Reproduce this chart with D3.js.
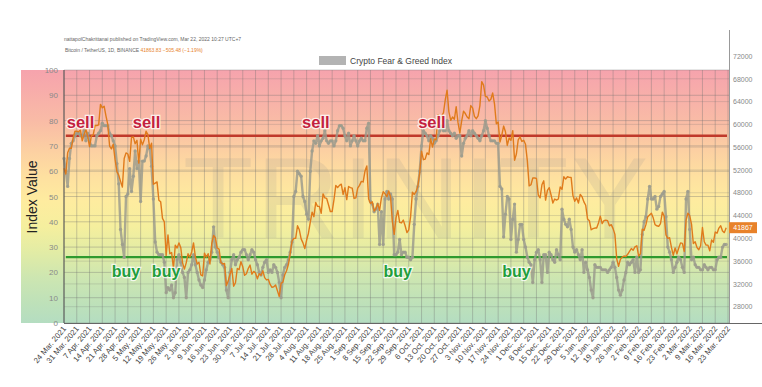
<!DOCTYPE html>
<html><head><meta charset="utf-8">
<script src="https://cdn.jsdelivr.net/npm/d3@7"></script>
<style>
body{margin:0;background:#fff}
svg{display:block}
text{font-family:"Liberation Sans",Arial,Helvetica,sans-serif}
</style>
</head><body>
<svg id="chart" width="762" height="387"></svg>
<script>
// ---------------- DATA ----------------
const startDate = "2021-03-24";
const endDate = "2022-03-23";

// Crypto Fear & Greed Index, daily from 24 Mar 2021
const fearGreed = [
65,60,54,65,71,72,74,75,75,74,
74,76,72,75,72,70,70,70,74,75,
76,79,78,78,78,75,74,72,70,63,
55,37,31,26,50,51,61,52,58,68,
61,64,48,64,64,66,70,69,62,49,
32,28,27,27,27,24,12,14,13,15,
10,12,25,27,24,20,18,10,20,21,
23,27,23,20,17,15,14,17,21,24,
25,28,38,30,28,26,24,23,22,13,
10,20,25,27,23,25,26,28,29,29,
27,25,27,29,28,25,23,20,19,22,
24,25,20,21,20,23,22,20,16,10,
19,22,23,25,28,32,50,52,60,59,
58,50,48,43,41,60,68,72,71,74,
70,72,73,76,72,71,72,72,70,72,
76,78,78,77,74,72,75,70,72,74,
72,70,72,73,72,72,77,79,48,47,
44,45,47,31,44,31,49,52,49,51,
49,27,27,28,33,27,28,28,26,26,
25,26,39,49,54,60,70,76,75,74,
72,74,73,71,72,74,76,78,76,76,
80,76,75,74,75,73,74,74,66,71,
73,74,76,74,76,75,74,73,72,74,
76,80,77,74,72,72,72,71,71,54,
53,34,43,50,49,33,41,47,28,33,
39,39,33,30,26,24,23,16,25,28,
29,25,16,27,27,20,28,27,25,24,
29,27,25,45,41,39,38,41,37,30,
28,29,27,25,29,20,24,21,18,13,
10,23,22,22,22,21,21,21,20,21,
22,24,22,18,13,11,13,17,20,24,
23,24,25,20,26,20,21,35,40,42,
49,54,49,49,50,45,46,50,51,52,
42,30,28,25,20,22,24,26,25,22,
20,49,52,37,25,26,23,22,22,21,
21,23,22,21,22,22,21,21,25,26,
26,30,31,31
];

// Bitcoin / TetherUS daily close (thousands), from 24 Mar 2021
const btcClose = [
52.3,51.3,55.0,55.8,55.8,57.6,58.8,58.8,
58.7,59.0,57.1,58.2,59.1,57.9,56.1,58.0,58.1,59.8,59.8,59.9,63.5,62.9,63.2,61.5,60.0,56.2,55.7,56.5,53.8,51.7,51.1,50.0,49.0,54.0,55.0,54.8,53.5,57.7,
57.8,56.6,57.2,53.2,57.4,56.4,57.3,58.8,58.2,55.8,56.7,49.5,49.7,49.9,46.7,46.4,43.5,42.9,37.0,40.6,37.3,37.5,34.7,38.8,38.3,39.2,38.4,35.7,34.6,35.7,37.3,
36.7,37.6,39.2,36.8,35.5,35.8,33.6,33.4,37.4,36.7,37.3,35.5,39.1,40.5,40.1,38.3,38.1,35.8,35.5,35.6,31.7,32.5,33.7,34.7,31.6,32.2,34.7,34.5,35.9,35.0,
33.5,33.8,34.7,35.3,33.7,34.2,33.9,32.9,33.8,33.5,34.3,33.1,32.7,32.8,31.9,31.4,31.5,31.8,30.8,29.8,32.1,32.3,33.6,34.3,35.4,37.3,39.5,40.0,40.0,42.2,41.5,
39.9,39.2,38.2,39.7,40.9,42.8,44.6,43.8,46.3,45.6,45.6,44.4,47.8,47.1,47.0,45.9,44.7,44.7,46.8,49.3,48.9,49.3,49.5,47.7,48.9,46.8,49.1,48.9,48.8,47.0,47.1,
48.8,49.3,50.0,49.9,51.8,52.7,46.9,46.1,46.4,44.8,45.2,46.1,44.9,47.1,48.2,47.8,47.3,48.3,47.3,43.0,40.7,43.6,44.9,42.8,42.7,43.2,42.2,41.0,41.5,43.8,
48.1,47.7,48.2,49.2,51.5,55.3,53.8,53.9,55.0,54.7,57.5,56.0,57.4,57.3,61.7,60.9,61.5,62.0,64.3,66.0,62.2,60.7,61.3,60.9,63.1,60.3,58.5,60.6,62.3,61.9,61.3,
61.0,63.3,62.9,61.4,61.0,61.5,63.3,67.5,66.9,64.9,64.8,64.1,64.4,65.5,63.6,60.1,60.4,56.9,58.1,59.7,58.7,56.3,57.6,57.2,58.9,53.7,54.8,57.3,57.8,57.0,
57.2,56.5,53.6,49.2,49.4,50.6,50.6,50.5,47.6,47.1,49.4,50.1,46.7,48.4,48.9,47.6,46.2,46.9,46.7,46.9,49.0,48.6,50.8,50.4,50.8,50.7,50.7,47.5,46.5,47.1,46.2,
47.7,47.3,46.4,45.8,43.4,43.1,41.5,41.7,41.8,41.8,42.7,43.9,42.6,43.1,43.2,43.1,42.2,42.4,41.7,40.7,36.4,35.1,36.3,36.7,36.9,36.8,37.2,37.7,38.2,37.9,38.5,
38.7,36.9,37.3,41.6,41.4,42.4,43.8,44.1,44.4,43.6,42.4,42.2,42.1,42.6,44.6,43.9,40.6,40.0,40.1,38.4,37.0,38.3,37.3,38.3,39.2,39.1,37.7,43.2,
44.4,44.0,42.5,39.1,39.4,38.4,38.0,38.7,41.9,39.4,38.8,38.8,37.8,39.7,39.3,41.1,40.9,41.8,42.2,41.3,41.0,41.863
];
const lastPrice = 41867;

const tickLabels = [
"24 Mar. 2021","31 Mar. 2021","7 Apr. 2021","14 Apr. 2021","21 Apr. 2021","28 Apr. 2021",
"5 May. 2021","12 May. 2021","19 May. 2021","26 May. 2021","2 Jun. 2021","9 Jun. 2021",
"16 Jun. 2021","23 Jun. 2021","30 Jun. 2021","7 Jul. 2021","14 Jul. 2021","21 Jul. 2021",
"28 Jul. 2021","4 Aug. 2021","11 Aug. 2021","18 Aug. 2021","25 Aug. 2021","1 Sep. 2021",
"8 Sep. 2021","15 Sep. 2021","22 Sep. 2021","29 Sep. 2021","6 Oct. 2021","13 Oct. 2021",
"20 Oct. 2021","27 Oct. 2021","3 Nov. 2021","10 Nov. 2021","17 Nov. 2021","24 Nov. 2021",
"1 Dec. 2021","8 Dec. 2021","15 Dec. 2021","22 Dec. 2021","29 Dec. 2021","5 Jan. 2022",
"12 Jan. 2022","19 Jan. 2022","26 Jan. 2022","2 Feb. 2022","9 Feb. 2022","16 Feb. 2022",
"23 Feb. 2022","2 Mar. 2022","9 Mar. 2022","16 Mar. 2022","23 Mar. 2022"
];
const indexTicks = [0,10,20,30,40,50,60,70,80,90,100];
const priceTicks = [28000,32000,36000,40000,44000,48000,52000,56000,60000,64000,68000,72000];

const sellLevel = 74;
const buyLevel = 26;
const sellMarks = ["2021-03-25T12:00Z","2021-04-30T16:00Z","2021-08-01T12:00Z","2021-10-04T04:00Z"];
const buyMarks  = ["2021-04-19T04:00Z","2021-05-11T04:00Z","2021-09-15T04:00Z","2021-11-19T06:00Z"];
const sellLabelValue = 77;
const buyLabelValue = 18.2;

// ---------------- CHART ----------------
const svg = d3.select("#chart");
const parseISO = d3.utcParse("%Y-%m-%d");
const parseTick = d3.utcParse("%d %b. %Y");
const t0 = parseISO(startDate), t1 = parseISO(endDate);

const L = 64, R = 728, T = 70, B = 323;
const x = d3.scaleUtc().domain([t0, t1]).range([L, R]);
const y = d3.scaleLinear().domain([0, 100]).range([B, T]);
const yp = d3.scaleLinear().domain([28000, 72000]).range([306.7, 56]);

// header
svg.append("text").attr("x", 64).attr("y", 41).attr("font-size", 5).attr("fill", "#666")
  .text("nattapolChakrittanai published on TradingView.com, Mar 22, 2022 10:27 UTC+7");
const h2 = svg.append("text").attr("x", 65).attr("y", 51.5).attr("font-size", 5).attr("fill", "#666");
h2.append("tspan").text("Bitcoin / TetherUS, 1D, BINANCE  ");
h2.append("tspan").attr("fill", "#e8822a").text("41863.83  −505.48 (−1.19%)");

// legend
svg.append("rect").attr("x", 319).attr("y", 56).attr("width", 27).attr("height", 9).attr("fill", "#b3b3b3");
svg.append("text").attr("x", 350).attr("y", 63.5).attr("font-size", 8.5).attr("fill", "#444")
  .text("Crypto Fear & Greed Index");

// background gradient
const defs = svg.append("defs");
const g = defs.append("linearGradient").attr("id", "bg").attr("x1", 0).attr("y1", 0).attr("x2", 0).attr("y2", 1);
[[0,"#f6a3ad"],[0.2,"#f9bba6"],[0.32,"#fcd0a2"],[0.42,"#fee0a0"],[0.52,"#feec9f"],
 [0.62,"#f5ef9e"],[0.72,"#e2eca5"],[0.82,"#cde6b1"],[0.92,"#bee1b9"],[1,"#b4ddc1"]]
 .forEach(([o,c]) => g.append("stop").attr("offset", o).attr("stop-color", c));
svg.append("rect").attr("x", 21).attr("y", T).attr("width", 729 - 21).attr("height", B - T).attr("fill", "url(#bg)");

// grid
const grid = svg.append("g").attr("stroke", "#6f6f6f").attr("stroke-opacity", 0.35).attr("stroke-width", 1);
const tickDates = tickLabels.map(parseTick);
tickDates.forEach(d => grid.append("line").attr("x1", x(d)).attr("x2", x(d)).attr("y1", T).attr("y2", B));
indexTicks.forEach(v => grid.append("line").attr("x1", L).attr("x2", 729).attr("y1", y(v)).attr("y2", y(v)));
priceTicks.filter(p => yp(p) > T && yp(p) < B).forEach(p =>
  grid.append("line").attr("x1", L).attr("x2", 729).attr("y1", yp(p)).attr("y2", yp(p)).attr("stroke-opacity", 0.22));

// watermark
svg.append("text").attr("x", 183).attr("y", 238).attr("font-size", 115).attr("letter-spacing", 3)
  .attr("fill", "#8a8a8a").attr("fill-opacity", 0.15).text("TRINITY");

// threshold lines
svg.append("line").attr("x1", x(parseISO("2021-03-25"))).attr("x2", 727).attr("y1", y(sellLevel)).attr("y2", y(sellLevel))
  .attr("stroke", "#c0392b").attr("stroke-width", 2.5);
svg.append("line").attr("x1", x(parseISO("2021-03-25"))).attr("x2", 727).attr("y1", y(buyLevel)).attr("y2", y(buyLevel))
  .attr("stroke", "#2f9a2f").attr("stroke-width", 2.2);

// fear & greed series
const fg = fearGreed.map((v, i) => ({ d: d3.utcDay.offset(t0, i), v }));
svg.append("path").datum(fg)
  .attr("fill", "none").attr("stroke", "#9a9a8c").attr("stroke-opacity", 0.82).attr("stroke-width", 2.4)
  .attr("stroke-linejoin", "round")
  .attr("d", d3.line().x(p => x(p.d)).y(p => y(p.v)));
svg.append("g").selectAll("circle").data(fg).join("circle")
  .attr("cx", p => x(p.d)).attr("cy", p => y(p.v)).attr("r", 1.7)
  .attr("fill", "#9c9c8e").attr("fill-opacity", 0.82);

// BTC series
const btc = btcClose.map((v, i) => ({ d: d3.utcDay.offset(t0, i), v: v * 1000 }));
svg.append("path").datum(btc)
  .attr("fill", "none").attr("stroke", "#e07b1c").attr("stroke-width", 1.4).attr("stroke-linejoin", "round")
  .attr("d", d3.line().x(p => x(p.d)).y(p => yp(p.v)));

// annotations
function label(dates, val, txt, color, size) {
  dates.forEach(s => {
    svg.append("text").attr("x", x(new Date(s))).attr("y", y(val))
      .attr("font-size", size).attr("font-weight", "bold").attr("fill", color)
      .attr("stroke", "#fff").attr("stroke-width", 2.5).attr("stroke-opacity", 0.8)
      .attr("paint-order", "stroke").text(txt);
  });
}
label(sellMarks, sellLabelValue, "sell", "#c4213f", 16.5);
label(buyMarks, buyLabelValue, "buy", "#1f9e3c", 16);

// axes lines
svg.append("line").attr("x1", L).attr("x2", L).attr("y1", T).attr("y2", B).attr("stroke", "#555").attr("stroke-width", 1);
svg.append("line").attr("x1", 729.5).attr("x2", 729.5).attr("y1", 30).attr("y2", B).attr("stroke", "#999").attr("stroke-width", 1);
svg.append("line").attr("x1", L).attr("x2", 762).attr("y1", B + 0.5).attr("y2", B + 0.5).attr("stroke", "#666").attr("stroke-width", 1);

// left axis
const ay = svg.append("g").attr("transform", `translate(${L},0)`)
  .call(d3.axisLeft(y).tickValues(indexTicks).tickSize(0).tickPadding(6));
ay.select(".domain").remove();
ay.selectAll("text").attr("font-size", 8).attr("fill", "#8a8a8a").attr("font-family", "Liberation Sans, Arial, sans-serif");

svg.append("text").attr("transform", "translate(37,197) rotate(-90)").attr("text-anchor", "middle")
  .attr("font-size", 14).attr("fill", "#222").text("Index Value");

// right price axis
const ar = svg.append("g").attr("transform", `translate(729,0)`)
  .call(d3.axisRight(yp).tickValues(priceTicks).tickSize(0).tickPadding(4).tickFormat(d3.format("d")));
ar.select(".domain").remove();
ar.selectAll("text").attr("font-size", 7).attr("fill", "#888").attr("font-family", "Liberation Sans, Arial, sans-serif");

// last price tag
svg.append("rect").attr("x", 729).attr("y", yp(lastPrice) - 5.5).attr("width", 28).attr("height", 11).attr("fill", "#e8822a");
svg.append("text").attr("x", 743).attr("y", yp(lastPrice) + 2.5).attr("text-anchor", "middle")
  .attr("font-size", 7).attr("fill", "#fff").text(d3.format("d")(lastPrice));

// bottom date axis
const ax = svg.append("g").attr("transform", `translate(0,${B})`)
  .call(d3.axisBottom(x).tickValues(tickDates).tickSize(0).tickPadding(0).tickFormat(d3.utcFormat("%-d %b. %Y")));
ax.select(".domain").remove();
ax.selectAll("text").attr("font-size", 7.8).attr("fill", "#444").attr("font-family", "Liberation Sans, Arial, sans-serif")
  .attr("text-anchor", "end").attr("dy", 0)
  .attr("transform", "translate(2,6) rotate(-50)");
</script>
</body></html>
